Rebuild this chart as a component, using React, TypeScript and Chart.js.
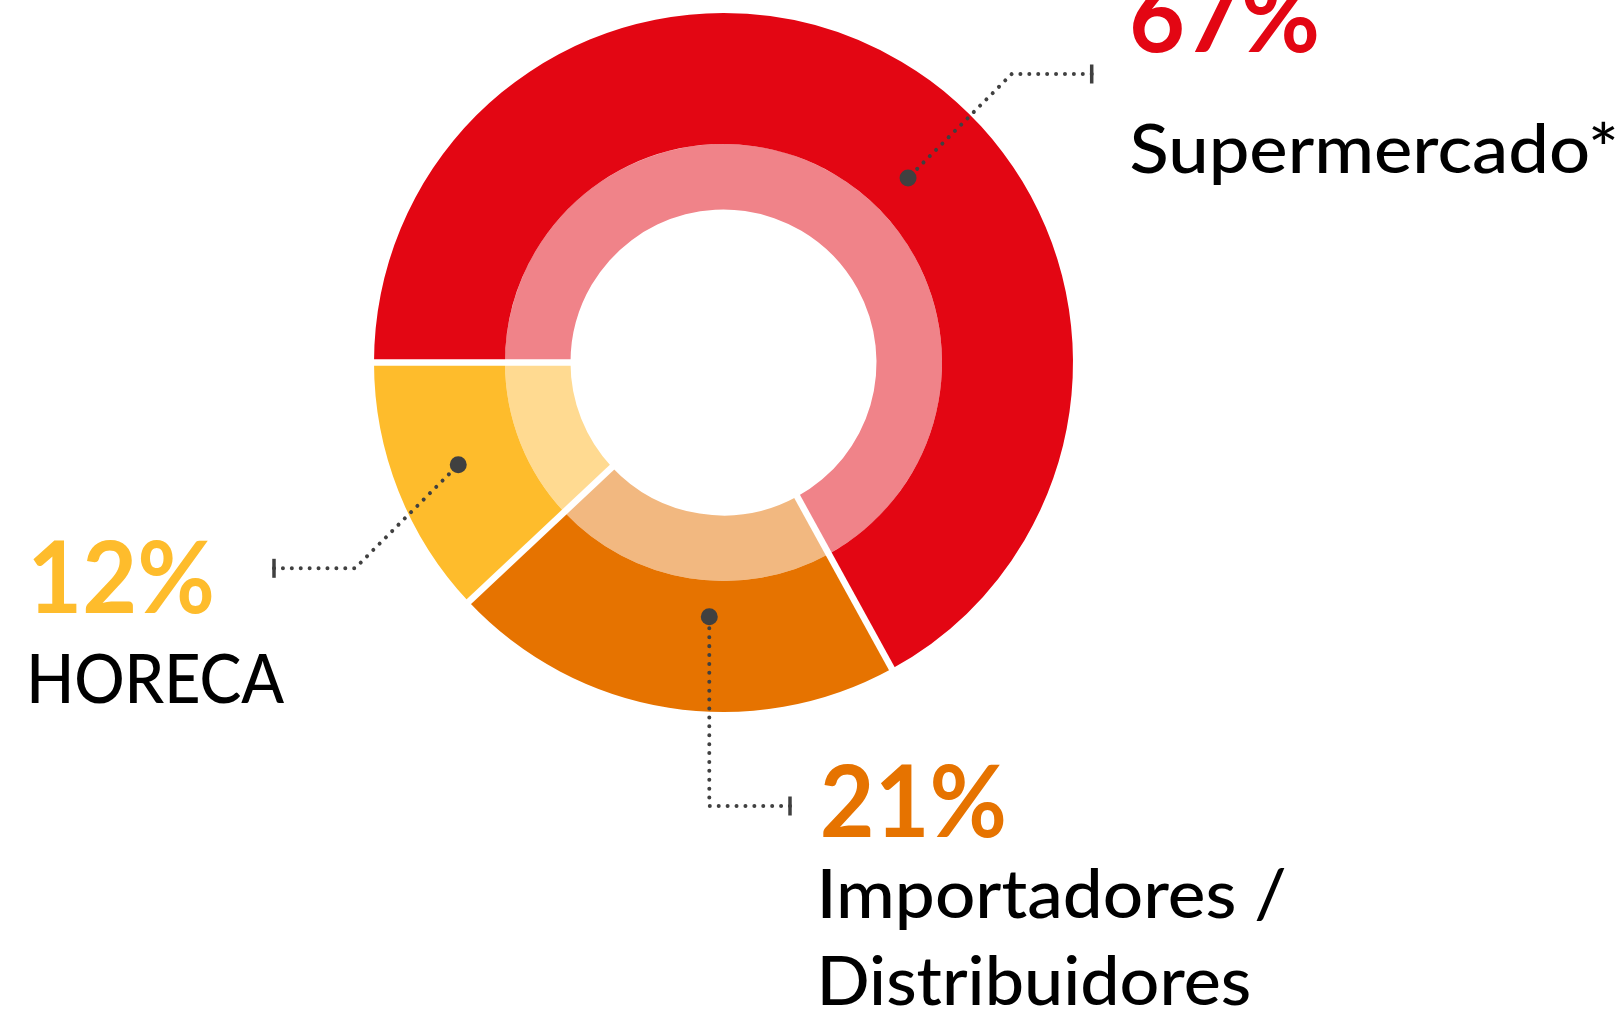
import React, { useEffect, useRef } from 'react';
import { Chart, registerables } from 'chart.js';

Chart.register(...registerables);

// ---------- data ----------
const categories = ['Supermercado*', 'Importadores / Distribuidores', 'HORECA'];
const shares = [67, 21, 12];
const percentLabels = ['67%', '21%', '12%'];
const nameLines = [['Supermercado*'], ['Importadores /', 'Distribuidores'], ['HORECA']];
const darkColors = ['#E30613', '#E67300', '#FEBC2C'];
const lightColors = ['#F08389', '#F2B880', '#FFDA91'];

// ---------- layout ----------
const W = 1623;
const H = 1016;
const CENTER_X = 723.5;
const CENTER_Y = 362.5;
const OUTER_R = 349.5;
const INNER_R = 153;
const LEADER_COLOR = '#404040';
const FONT_FAMILY = 'Lato, "Open Sans", "Noto Sans", sans-serif';

// leader line geometry relative to the doughnut centre, text placement in page px
const annotations = [
  {
    dotAngle: -45, dotR: 261, elbow: [288.2, -288.5], tickDx: 368.2,
    pct: { left: 1133, base: 51.7, width: 184 },
    names: [{ left: 1131.7, base: 173.3, width: 483 }],
  },
  {
    dotAngle: 93.2, dotR: 254.6, elbow: [-14.2, 443.5], tickDx: 66.5,
    pct: { left: 822.7, base: 836.7, width: 181.3 },
    names: [
      { left: 822.7, base: 918.3, width: 462 },
      { left: 822.7, base: 1005, width: 427 },
    ],
  },
  {
    dotAngle: 158.9, dotR: 284.3, elbow: [-368.5, 205.8], tickDx: -449.5,
    pct: { left: 33, base: 612.7, width: 179 },
    names: [{ left: 31.7, base: 703.3, width: 253 }],
  },
];

function drawFitted(ctx: CanvasRenderingContext2D, text: string, font: string, color: string, left: number, base: number, width: number) {
  ctx.save();
  ctx.font = font;
  ctx.fillStyle = color;
  ctx.textAlign = 'left';
  ctx.textBaseline = 'alphabetic';
  const m = ctx.measureText(text);
  const ink = m.actualBoundingBoxLeft + m.actualBoundingBoxRight;
  const sx = ink > 0 ? width / ink : 1;
  ctx.translate(left, base);
  ctx.scale(sx, 1);
  ctx.fillText(text, m.actualBoundingBoxLeft, 0);
  ctx.restore();
}

const overlayPlugin = {
  id: 'overlay',
  afterDatasetsDraw(chart: any) {
    const ctx: CanvasRenderingContext2D = chart.ctx;
    const outerArcs = chart.getDatasetMeta(0).data;
    const innerArcs = chart.getDatasetMeta(1).data;
    if (!outerArcs.length) return;

    // white separators between the slices
    ctx.save();
    ctx.strokeStyle = '#ffffff';
    ctx.lineWidth = 6.5;
    ctx.lineCap = 'butt';
    outerArcs.forEach((arc: any, i: number) => {
      const p = arc.getProps(['x', 'y', 'startAngle', 'outerRadius'], true);
      const q = innerArcs[i].getProps(['innerRadius'], true);
      const c = Math.cos(p.startAngle);
      const s = Math.sin(p.startAngle);
      ctx.beginPath();
      ctx.moveTo(p.x + c * (q.innerRadius - 2), p.y + s * (q.innerRadius - 2));
      ctx.lineTo(p.x + c * (p.outerRadius + 2), p.y + s * (p.outerRadius + 2));
      ctx.stroke();
    });
    ctx.restore();

    // leader lines
    const { x: cx, y: cy } = outerArcs[0].getProps(['x', 'y'], true);
    annotations.forEach((a) => {
      const ang = (a.dotAngle * Math.PI) / 180;
      const dx = cx + a.dotR * Math.cos(ang);
      const dy = cy + a.dotR * Math.sin(ang);
      const ex = cx + a.elbow[0];
      const ey = cy + a.elbow[1];
      const tx = cx + a.tickDx;
      ctx.save();
      ctx.strokeStyle = LEADER_COLOR;
      ctx.lineWidth = 4;
      ctx.lineCap = 'round';
      ctx.lineJoin = 'round';
      ctx.setLineDash([0.01, 8.9]);
      ctx.beginPath();
      ctx.moveTo(tx, ey);
      ctx.lineTo(ex, ey);
      ctx.lineTo(dx, dy);
      ctx.stroke();
      ctx.setLineDash([]);
      ctx.fillStyle = LEADER_COLOR;
      ctx.beginPath();
      ctx.arc(dx, dy, 8.5, 0, Math.PI * 2);
      ctx.fill();
      ctx.fillRect(tx - 1.75, ey - 9.5, 3.5, 19);
      ctx.restore();
    });
  },
  afterDraw(chart: any) {
    const ctx: CanvasRenderingContext2D = chart.ctx;
    annotations.forEach((a, i) => {
      drawFitted(ctx, percentLabels[i], `bold 99px ${FONT_FAMILY}`, darkColors[i], a.pct.left, a.pct.base, a.pct.width);
      nameLines[i].forEach((line, j) => {
        const n = a.names[j];
        drawFitted(ctx, line, `500 68px ${FONT_FAMILY}`, '#000000', n.left, n.base, n.width);
      });
    });
  },
};

export default function App() {
  const ref = useRef<HTMLCanvasElement>(null);
  useEffect(() => {
    if (!ref.current) return;
    let alive = true;
    const chart = new Chart(ref.current, {
      type: 'doughnut',
      data: {
        labels: categories,
        datasets: [
          { data: shares, backgroundColor: darkColors, borderWidth: 0, weight: 2, offset: 0, hoverOffset: 0 } as any,
          { data: shares, backgroundColor: lightColors, borderWidth: 0, weight: 1, offset: 0, hoverOffset: 0 } as any,
        ],
      },
      options: {
        responsive: false,
        animation: false,
        devicePixelRatio: 1,
        rotation: -90,
        radius: OUTER_R,
        cutout: INNER_R,
        events: [],
        layout: {
          padding: {
            left: CENTER_X - OUTER_R,
            right: W - CENTER_X - OUTER_R,
            top: CENTER_Y - OUTER_R,
            bottom: H - CENTER_Y - OUTER_R,
          },
        },
        plugins: {
          legend: { display: false },
          tooltip: { enabled: false },
        },
      } as any,
      plugins: [overlayPlugin],
    });
    if ((document as any).fonts && (document as any).fonts.load) {
      Promise.all([
        (document as any).fonts.load('bold 99px Lato'),
        (document as any).fonts.load('500 68px Lato'),
      ]).then(() => {
        if (alive) chart.draw();
      }).catch(() => {});
    }
    return () => {
      alive = false;
      chart.destroy();
    };
  }, []);
  return (
    <div style={{ position: 'absolute', left: 0, top: 0, width: W, height: H, background: '#ffffff' }}>
      <canvas ref={ref} width={W} height={H} style={{ display: 'block' }} />
    </div>
  );
}
